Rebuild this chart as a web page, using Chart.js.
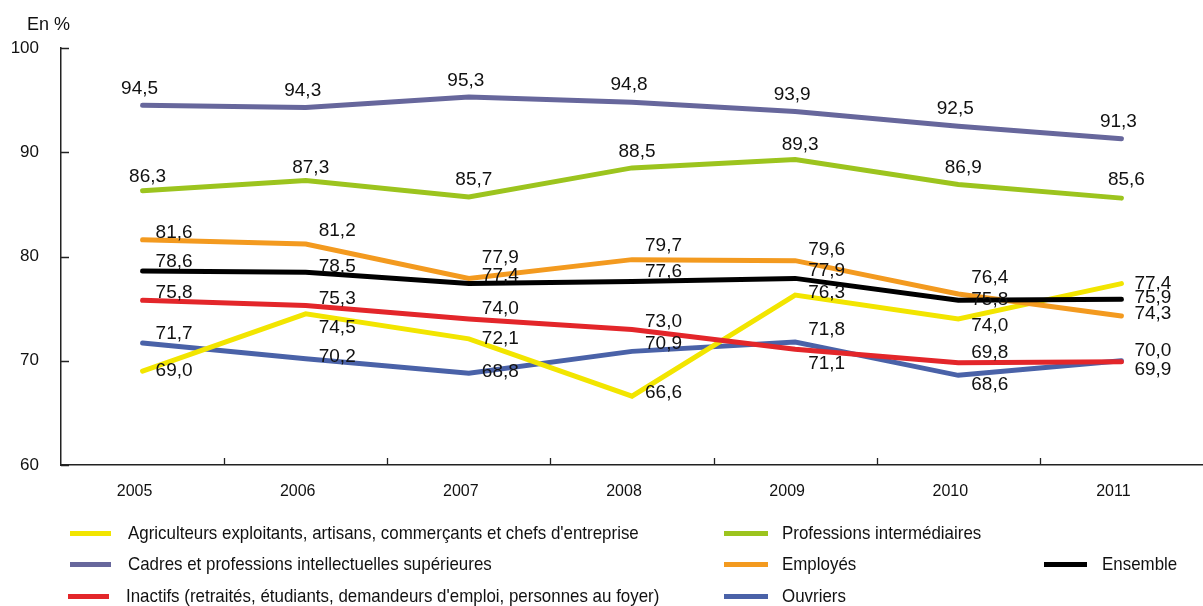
<!DOCTYPE html>
<html>
<head>
<meta charset="utf-8">
<script src="https://cdn.jsdelivr.net/npm/chart.js@4"></script>
<style>
  html, body { margin: 0; padding: 0; background: #fff; }
  #wrap { position: relative; width: 1203px; height: 606px; }
  #c { position: absolute; left: 0; top: 0; }
  .unit { position: absolute; left: 27px; top: 14px; font: 18px "Liberation Sans", Arial, sans-serif; color: #111; }
  .leg { position: absolute; height: 22px; line-height: 22px; font: 19px "Liberation Sans", Arial, sans-serif; color: #111; white-space: nowrap; transform: scaleX(0.89); transform-origin: 0 50%; }
</style>
</head>
<body>
<div id="wrap">
  <canvas id="c" width="1203" height="606"></canvas>
  <div class="unit">En %</div>
</div>
<script>
// ---- Data ----
const years = ["2005", "2006", "2007", "2008", "2009", "2010", "2011"];
const yTicks = [60, 70, 80, 90, 100];

const agriculteurs = [69.0, 74.5, 72.1, 66.6, 76.3, 74.0, 77.4];
const cadres       = [94.5, 94.3, 95.3, 94.8, 93.9, 92.5, 91.3];
const inactifs     = [75.8, 75.3, 74.0, 73.0, 71.1, 69.8, 69.9];
const profInter    = [86.3, 87.3, 85.7, 88.5, 89.3, 86.9, 85.6];
const employes     = [81.6, 81.2, 77.9, 79.7, 79.6, 76.4, 74.3];
const ouvriers     = [71.7, 70.2, 68.8, 70.9, 71.8, 68.6, 70.0];
const ensemble     = [78.6, 78.5, 77.4, 77.6, 77.9, 75.8, 75.9];

const seriesNames = {
  agri: "Agriculteurs exploitants, artisans, commerçants et chefs d'entreprise",
  cadres: "Cadres et professions intellectuelles supérieures",
  inactifs: "Inactifs (retraités, étudiants, demandeurs d'emploi, personnes au foyer)",
  prof: "Professions intermédiaires",
  empl: "Employés",
  ouv: "Ouvriers",
  ens: "Ensemble"
};

// ---- Styles ----
const colors = {
  agri: "#f2e500", cadres: "#67679c", inactifs: "#e3262a", prof: "#9cc41e",
  empl: "#f39a1f", ouv: "#4a62a8", ens: "#000000"
};
// label placement (style): align, dx, dy per point
const labelStyle = {
  cadres:   { align: "center", dx: -3, dy: [-17, -17, -16, -17, -17, -17, -17] },
  prof:     { align: "center", dx: 5,  dy: [-14, -13, -17, -16, -15, -17, -18] },
  empl:     { align: "left", dx: 13, dy: [-7, -13, -21, -14, -11, -16, -2] },
  ens:      { align: "left", dx: 13, dy: [-9, -5, -8, -10, -8, -1, -1] },
  inactifs: { align: "left", dx: 13, dy: [-8, -7, -10, -8, 14, -10, 8] },
  agri:     { align: "left", dx: 13, dy: [0, 14, 0, -3, -2, 7, 0] },
  ouv:      { align: "left", dx: 13, dy: [-9, -2, -1, -8, -12, 9, -10] }
};
// legend layout (style): key, left of swatch, swatch width, text left, center y
const legendLayout = [
  ["agri", 70, 41, 128, 533], ["cadres", 70, 41, 128, 564], ["inactifs", 68, 41, 126, 596],
  ["prof", 724, 44, 782, 533], ["empl", 724, 44, 782, 564], ["ouv", 724, 44, 782, 596],
  ["ens", 1044, 43, 1102, 564]
];

const seriesData = {
  ouv: ouvriers, agri: agriculteurs, cadres: cadres, prof: profInter,
  empl: employes, inactifs: inactifs, ens: ensemble
};
const drawOrder = ["ens", "inactifs", "empl", "agri", "ouv", "prof", "cadres"]; // first = top

const datasets = drawOrder.map((k, i) => ({
  key: k,
  label: seriesNames[k],
  data: seriesData[k],
  borderColor: colors[k],
  backgroundColor: colors[k],
  borderWidth: 5,
  borderCapStyle: "round",
  borderJoinStyle: "miter",
  pointRadius: 0,
  tension: 0,
  fill: false,
  order: i
}));

const fmt = v => v.toFixed(1).replace(".", ",");

const labelsPlugin = {
  id: "pointLabels",
  afterDatasetsDraw(chart) {
    const ctx = chart.ctx;
    ctx.save();
    ctx.font = '19px "Liberation Sans", Arial, sans-serif';
    ctx.fillStyle = "#111";
    ctx.textBaseline = "middle";
    chart.data.datasets.forEach((ds, di) => {
      const st = labelStyle[ds.key];
      const meta = chart.getDatasetMeta(di);
      meta.data.forEach((pt, i) => {
        ctx.textAlign = st.align;
        ctx.fillText(fmt(ds.data[i]), pt.x + st.dx, pt.y + st.dy[i]);
      });
    });
    ctx.restore();
  }
};

const ticksPlugin = {
  id: "innerTicks",
  afterDraw(chart) {
    const ctx = chart.ctx;
    const x = chart.scales.x, y = chart.scales.y;
    const area = chart.chartArea;
    ctx.save();
    ctx.strokeStyle = "#222";
    ctx.lineWidth = 1.3;
    ctx.beginPath();
    yTicks.forEach(v => {
      const py = Math.round(y.getPixelForValue(v)) + 0.5;
      ctx.moveTo(area.left, py);
      ctx.lineTo(area.left + 8, py);
    });
    for (let i = 0; i < years.length - 1; i++) {
      const px = Math.round((x.getPixelForValue(i) + x.getPixelForValue(i + 1)) / 2) + 0.5;
      ctx.moveTo(px, area.bottom);
      ctx.lineTo(px, area.bottom - 7);
    }
    ctx.stroke();
    ctx.restore();
  }
};

new Chart(document.getElementById("c"), {
  type: "line",
  data: { labels: years, datasets },
  options: {
    responsive: false,
    animation: false,
    devicePixelRatio: 1,
    layout: { padding: { top: 48, right: 0, left: 0, bottom: 0 } },
    plugins: { legend: { display: false }, tooltip: { enabled: false }, title: { display: false } },
    scales: {
      x: {
        offset: true,
        grid: { display: false, drawTicks: false },
        border: { display: true, color: "#222", width: 1.5 },
        ticks: {
          padding: 17, color: "#111", labelOffset: -8,
          font: { family: '"Liberation Sans", Arial, sans-serif', size: 16 }
        },
        afterFit(s) { s.height = 141; }
      },
      y: {
        min: 60, max: 100,
        grid: { display: false, drawTicks: false },
        border: { display: true, color: "#222", width: 1.5 },
        afterBuildTicks(s) { s.ticks = yTicks.map(v => ({ value: v })); },
        ticks: {
          padding: 22, color: "#111",
          font: { family: '"Liberation Sans", Arial, sans-serif', size: 17 }
        },
        afterFit(s) { s.width = 61; }
      }
    }
  },
  plugins: [labelsPlugin, ticksPlugin]
});

// HTML legend built from the series
const wrap = document.getElementById("wrap");
legendLayout.forEach(([k, sx, sw, tx, cy]) => {
  const sWatch = document.createElement("div");
  sWatch.style.cssText = `position:absolute;left:${sx}px;top:${cy - 2.5}px;width:${sw}px;height:5px;background:${colors[k]};`;
  wrap.appendChild(sWatch);
  const t = document.createElement("div");
  t.className = "leg";
  t.style.left = tx + "px";
  t.style.top = (cy - 11) + "px";
  t.textContent = seriesNames[k];
  wrap.appendChild(t);
});
</script>
</body>
</html>
